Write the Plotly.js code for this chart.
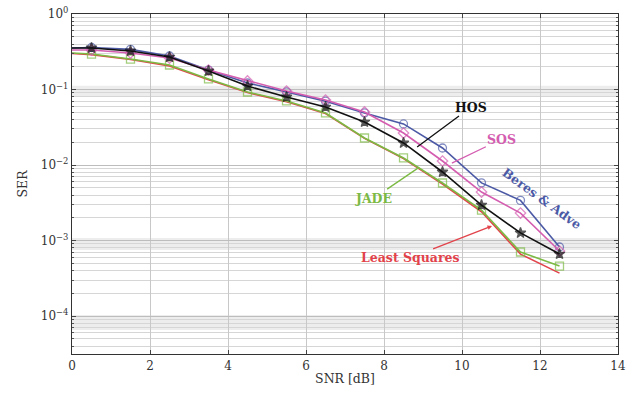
<!DOCTYPE html>
<html>
<head>
<meta charset="utf-8">
<script src="https://cdn.plot.ly/plotly-3.0.1.min.js"></script>
<style>html,body{margin:0;padding:0;background:#fff;}#chart{width:626px;height:396px;}</style>
</head>
<body>
<div id="chart"></div>
<script>
// SNR points (dB); first point (0 dB) is drawn without a marker
const snr = [0, 0.5, 1.5, 2.5, 3.5, 4.5, 5.5, 6.5, 7.5, 8.5, 9.5, 10.5, 11.5, 12.5];
const beresAdve   = [0.355, 0.36, 0.34, 0.278, 0.181, 0.122, 0.093, 0.070, 0.049, 0.035, 0.0168, 0.0058, 0.0034, 0.00082];
const sos         = [0.333, 0.333, 0.304, 0.261, 0.181, 0.130, 0.0955, 0.0726, 0.0504, 0.0265, 0.0113, 0.00439, 0.00231, 0.000726];
const hos         = [0.355, 0.355, 0.324, 0.269, 0.176, 0.111, 0.0796, 0.0586, 0.0371, 0.0196, 0.00808, 0.00295, 0.00126, 0.000662];
const jade        = [0.304, 0.295, 0.253, 0.211, 0.138, 0.0927, 0.0705, 0.0489, 0.0228, 0.0124, 0.00578, 0.00253, 0.000704, 0.000459];
const leastSquares= [0.300, 0.290, 0.250, 0.205, 0.135, 0.091, 0.069, 0.048, 0.0225, 0.0122, 0.0056, 0.0024, 0.00066, 0.00037];

const yTickVals = [1e-4, 1e-3, 1e-2, 1e-1, 1];
const yTickText = ['10<sup>−4</sup>', '10<sup>−3</sup>', '10<sup>−2</sup>', '10<sup>−1</sup>', '10<sup>0</sup>'];
const xTickVals = [0, 2, 4, 6, 8, 10, 12, 14];

const serif = '"DejaVu Serif", "Liberation Serif", serif';
const msize = snr.map(v => v === 0 ? 0 : 8);

function tr(y, name, color, symbol) {
  const t = {
    x: snr, y: y, name: name, type: 'scatter', mode: symbol ? 'lines+markers' : 'lines',
    line: {color: color, width: 1.6}
  };
  if (symbol) {
    t.marker = {symbol: symbol, size: msize, color: color, line: {color: color, width: 1.3}};
  }
  return t;
}

const data = [
  tr(leastSquares, 'Least Squares', '#e2434b', null),
  tr(jade, 'JADE', '#7cba44', 'square-open'),
  tr(beresAdve, 'Beres & Adve', '#4c5aa6', 'circle-open'),
  tr(sos, 'SOS', '#d45db0', 'diamond-open'),
  tr(hos, 'HOS', '#111111', 'star')
];

const annFont = (c) => ({family: serif, size: 12.5, color: c});
const layout = {
  width: 626, height: 396,
  margin: {l: 72, r: 8, t: 14, b: 42},
  paper_bgcolor: '#fff', plot_bgcolor: '#fff',
  showlegend: false,
  font: {family: serif, size: 12, color: '#333'},
  xaxis: {
    range: [0, 14], tickvals: xTickVals, ticks: 'inside', ticklen: 4,
    showline: true, mirror: 'ticks', linecolor: '#333', linewidth: 1.2,
    showgrid: true, gridcolor: '#c8c8c8', gridwidth: 1, zeroline: false,
    tickfont: {family: serif, size: 12, color: '#333'},
    title: {text: 'SNR [dB]', font: {family: serif, size: 12.5, color: '#333'}, standoff: 2}
  },
  yaxis: {
    type: 'log', range: [-4.503, 0], tickvals: yTickVals, ticktext: yTickText,
    ticks: 'inside', ticklen: 4,
    showline: true, mirror: 'ticks', linecolor: '#333', linewidth: 1.2,
    showgrid: true, gridcolor: '#bdbdbd', gridwidth: 1, zeroline: false,
    minor: {dtick: 'D1', showgrid: true, gridcolor: '#d6d6d6', gridwidth: 1, ticks: 'inside', ticklen: 2, tickcolor: '#555'},
    tickfont: {family: serif, size: 12, color: '#333'},
    title: {text: 'SER', font: {family: serif, size: 12.5, color: '#333'}, standoff: 10}
  },
  shapes: [
    {type: 'rect', xref: 'paper', x0: 0, x1: 1, yref: 'y', y0: 0.08, y1: 0.112, fillcolor: '#ededed', line: {width: 0}, layer: 'below'},
    {type: 'rect', xref: 'paper', x0: 0, x1: 1, yref: 'y', y0: 0.00075, y1: 0.00108, fillcolor: '#ededed', line: {width: 0}, layer: 'below'},
    {type: 'rect', xref: 'paper', x0: 0, x1: 1, yref: 'y', y0: 0.0000655, y1: 0.000103, fillcolor: '#ededed', line: {width: 0}, layer: 'below'}
  ],
  annotations: [
    {x: 8.85, y: Math.log10(0.0173), ax: 54, ay: -40, text: '<b>HOS</b>', font: annFont('#111'),
     showarrow: true, arrowhead: 0, arrowwidth: 1.3, arrowcolor: '#111', standoff: 0},
    {x: 9.74, y: Math.log10(0.0106), ax: 50, ay: -24, text: '<b>SOS</b>', font: annFont('#d45db0'),
     showarrow: true, arrowhead: 0, arrowwidth: 1.3, arrowcolor: '#d45db0', standoff: 0},
    {x: 8.87, y: Math.log10(0.0091), ax: -44, ay: 30, text: '<b>JADE</b>', font: annFont('#7cba44'),
     showarrow: true, arrowhead: 0, arrowwidth: 1.3, arrowcolor: '#7cba44', standoff: 0},
    {x: 10.77, y: Math.log10(0.00156), ax: -82, ay: 32, text: '<b>Least Squares</b>', font: annFont('#e2434b'),
     showarrow: true, arrowhead: 2, arrowsize: 0.7, arrowwidth: 1.3, arrowcolor: '#e2434b', standoff: 0},
    {x: 12.05, y: Math.log10(0.0036), text: '<b>Beres &amp; Adve</b>', font: annFont('#4c5aa6'),
     textangle: 36, showarrow: false}
  ]
};

Plotly.newPlot('chart', data, layout, {staticPlot: true, displayModeBar: false});
</script>
</body>
</html>
